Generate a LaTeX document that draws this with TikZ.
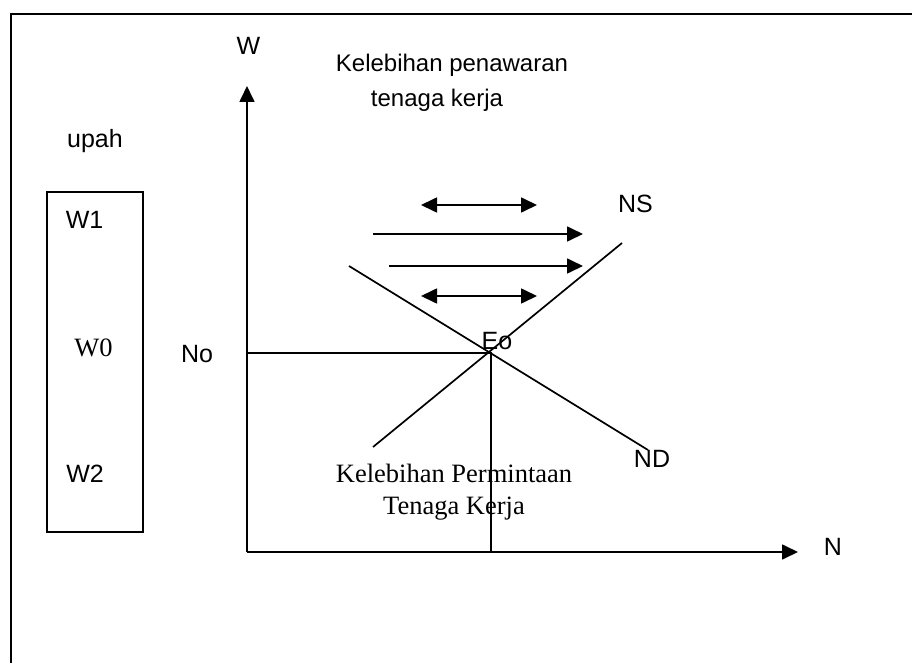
\documentclass[tikz,border=0pt]{standalone}
\usepackage{fontspec}
\setmainfont{Liberation Sans}
\newfontfamily\serifx{Liberation Serif}
\usetikzlibrary{arrows.meta}
\tikzset{
  lab/.style={font=\fontsize{25}{29}\selectfont, inner sep=0pt, anchor=base},
  tlab/.style={font=\fontsize{24}{28}\selectfont, inner sep=0pt, anchor=base},
  slab/.style={font=\serifx\fontsize{26.5}{30}\selectfont, inner sep=0pt, anchor=base},
  ln/.style={line width=1.7pt},
  arr/.style={ln, -{Triangle[length=16pt,width=15pt]}},
  darr/.style={ln, {Triangle[length=16pt,width=15pt]}-{Triangle[length=16pt,width=15pt]}},
}
\begin{document}
\begin{tikzpicture}[x=1pt,y=-1pt]
\useasboundingbox (0,0) rectangle (912,663);
% outer frame
\coordinate (fbl) at (11,663);
\coordinate (ftl) at (11,14);
\coordinate (ftr) at (912,14);
\draw[line width=2.6pt] (fbl) -- (ftl) -- (ftr);
% axes
\coordinate (O) at (247,552);
\coordinate (Ytop) at (247,86);
\coordinate (Xend) at (798,552);
\draw[arr] (O) -- (Ytop);
\draw[arr] (O) -- (Xend);
% equilibrium
\coordinate (E) at (491,353);
\coordinate (Ey) at (247,353);
\coordinate (Ex) at (491,552);
\draw[ln] (Ey) -- (E) -- (Ex);
% curves
\coordinate (NSlo) at (373,447);
\coordinate (NShi) at (622,243);
\coordinate (NDhi) at (349,266);
\coordinate (NDlo) at (648,450);
\draw[ln] (NSlo) -- (NShi);
\draw[ln] (NDhi) -- (NDlo);
% arrows
\coordinate (a1l) at (421,205); \coordinate (a1r) at (537,205);
\coordinate (a2l) at (373,234); \coordinate (a2r) at (583,234);
\coordinate (a3l) at (389,266); \coordinate (a3r) at (583,266);
\coordinate (a4l) at (421,296); \coordinate (a4r) at (537,296);
\draw[darr] (a1l) -- (a1r);
\draw[arr] (a2l) -- (a2r);
\draw[arr] (a3l) -- (a3r);
\draw[darr] (a4l) -- (a4r);
% wage box
\node[draw, line width=1.7pt, minimum width=96pt, minimum height=340pt, inner sep=0pt] (box) at (95,362) {};
% labels
\node[lab] (W) at (248.5,55) {W};
\node[lab] (N) at (833,555) {N};
\node[lab] (upah) at (95,148) {upah};
\node[lab] (W1) at (84.5,228) {W1};
\node[slab] (W0) at (93.5,356) {W0};
\node[lab] (W2) at (85,482) {W2};
\node[lab] (No) at (197,362) {No};
\node[lab] (NS) at (635.5,212) {NS};
\node[lab] (Eo) at (497,349) {Eo};
\node[lab] (ND) at (652,467) {ND};
\node[tlab] (t1) at (452,72) {Kelebihan penawaran};
\node[tlab] (t2) at (437,107) {tenaga kerja};
\node[slab] (b1) at (454,482) {Kelebihan Permintaan};
\node[slab] (b2) at (454,514) {Tenaga Kerja};
\end{tikzpicture}
\end{document}
